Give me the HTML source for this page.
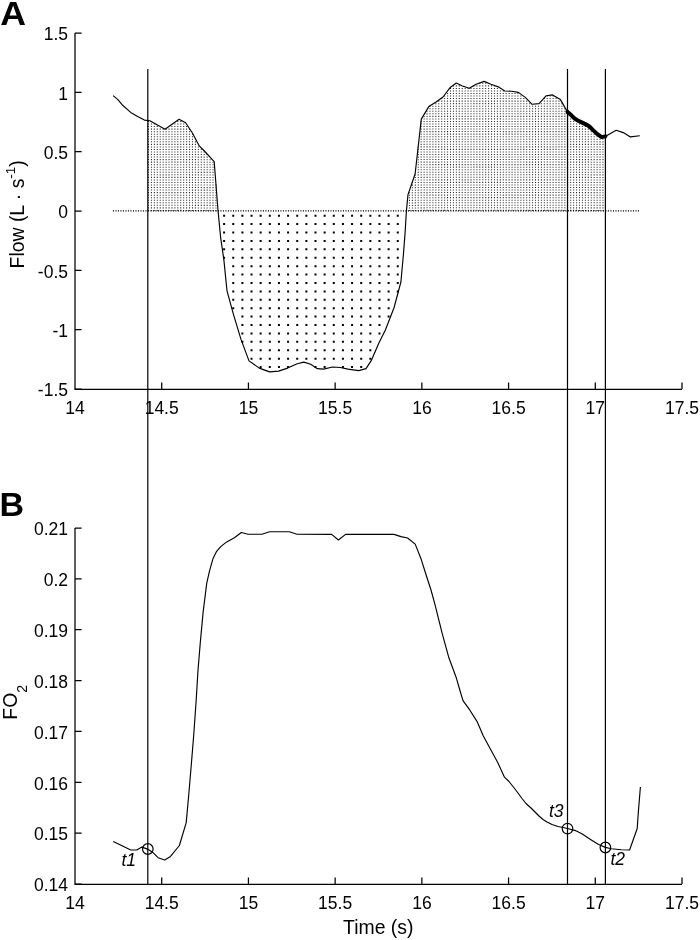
<!DOCTYPE html>
<html><head><meta charset="utf-8"><title>Flow and FO2</title>
<style>html,body{margin:0;padding:0;background:#fff;}body{width:700px;height:940px;overflow:hidden;}svg{display:block;will-change:transform;font-family:"Liberation Sans", sans-serif;}</style></head><body>
<svg width="700" height="940" viewBox="0 0 700 940">
<rect width="700" height="940" fill="#fff"/>
<path d="M148.5,120.97v90.12M151.43,123.52v87.58M154.36,123.52v87.58M157.29,126.06v85.03M160.23,128.61v82.49M163.16,128.61v82.49M166.09,128.61v82.49M169.02,128.61v82.49M171.95,126.06v85.03M174.89,123.52v87.58M177.82,120.97v90.12M180.75,120.97v90.12M183.68,123.52v87.58M186.61,126.06v85.03M189.55,128.61v82.49M192.48,133.7v77.4M195.41,138.79v72.31M198.34,146.43v64.67M201.27,148.97v62.13M204.21,151.52v59.58M207.14,154.06v57.04M210.07,159.15v51.95M213,161.69v49.4M215.93,184.6v26.5M406.51,210.05v1.05M409.45,192.23v18.86M412.38,182.06v29.04M415.31,174.42v36.68M418.24,146.43v64.67M421.17,120.97v90.12M424.11,115.89v95.21M427.04,110.8v100.3M429.97,105.7v105.39M432.9,105.7v105.39M435.83,103.16v107.94M438.77,100.62v110.48M441.7,98.07v113.03M444.63,95.53v115.57M447.56,92.98v118.12M450.49,87.89v123.21M453.43,85.34v125.75M456.36,85.34v125.75M459.29,85.34v125.75M462.22,87.89v123.21M465.15,87.89v123.21M468.09,87.89v123.21M471.02,87.89v123.21M473.95,85.34v125.75M476.88,85.34v125.75M479.81,82.8v128.3M482.75,82.8v128.3M485.68,82.8v128.3M488.61,85.34v125.75M491.54,85.34v125.75M494.47,85.34v125.75M497.41,87.89v123.21M500.34,87.89v123.21M503.27,90.44v120.66M506.2,92.98v118.12M509.13,92.98v118.12M512.07,92.98v118.12M515,92.98v118.12M517.93,92.98v118.12M520.86,95.53v115.57M523.79,98.07v113.03M526.73,100.62v110.48M529.66,103.16v107.94M532.59,105.7v105.39M535.52,105.7v105.39M538.45,105.7v105.39M541.39,103.16v107.94M544.32,98.07v113.03M547.25,95.53v115.57M550.18,95.53v115.57M553.11,95.53v115.57M556.05,98.07v113.03M558.98,100.62v110.48M561.91,103.16v107.94M564.84,108.25v102.85M567.77,113.34v97.76M570.71,115.89v95.21M573.64,118.43v92.67M576.57,120.97v90.12M579.5,123.52v87.58M582.43,123.52v87.58M585.37,126.06v85.03M588.3,126.06v85.03M591.23,128.61v82.49M594.16,131.16v79.94M597.09,133.7v77.4M600.03,136.25v74.85M602.96,138.79v72.31" fill="none" stroke="#000" stroke-opacity="0.85" stroke-width="1.05" stroke-dasharray="1.05 1.49"/>
<path d="M224.1,214.7v44.05M233.24,214.7v94.51M242.38,214.7v128.15M251.52,214.7v144.97M260.66,214.7v153.38M269.8,214.7v153.38M278.94,214.7v153.38M288.08,214.7v153.38M297.22,214.7v144.97M306.36,214.7v144.97M315.5,214.7v153.38M324.64,214.7v153.38M333.78,214.7v144.97M342.92,214.7v153.38M352.06,214.7v153.38M361.2,214.7v153.38M370.34,214.7v144.97M379.48,214.7v119.74M388.62,214.7v102.92M397.76,214.7v77.69" fill="none" stroke="#000" stroke-width="2" stroke-dasharray="2 6.41"/>
<line x1="112.9" y1="210.9" x2="640.4" y2="210.9" stroke="#000" stroke-width="1.4" stroke-dasharray="1.1 1.4"/>
<path d="M75.0,33.0 V389.25 H682.0" stroke="#000" stroke-width="1.25" fill="none"/>
<path d="M75.0,33.00h6.6M75.0,92.33h6.6M75.0,151.67h6.6M75.0,211.00h6.6M75.0,270.33h6.6M75.0,329.67h6.6M75.0,389.00h6.6" stroke="#000" stroke-width="1.25" fill="none"/>
<path d="M161.71,389.0v-6.4M248.43,389.0v-6.4M335.14,389.0v-6.4M421.86,389.0v-6.4M508.57,389.0v-6.4M595.29,389.0v-6.4M682.00,389.0v-6.4" stroke="#000" stroke-width="1.25" fill="none"/>
<text x="68" y="40.2" font-size="17.5" text-anchor="end">1.5</text>
<text x="68" y="99.5" font-size="17.5" text-anchor="end">1</text>
<text x="68" y="158.9" font-size="17.5" text-anchor="end">0.5</text>
<text x="68" y="218.2" font-size="17.5" text-anchor="end">0</text>
<text x="68" y="277.5" font-size="17.5" text-anchor="end">-0.5</text>
<text x="68" y="336.9" font-size="17.5" text-anchor="end">-1</text>
<text x="68" y="396.2" font-size="17.5" text-anchor="end">-1.5</text>
<text x="75.0" y="413.5" font-size="17.5" text-anchor="middle">14</text>
<text x="161.7" y="413.5" font-size="17.5" text-anchor="middle">14.5</text>
<text x="248.4" y="413.5" font-size="17.5" text-anchor="middle">15</text>
<text x="335.1" y="413.5" font-size="17.5" text-anchor="middle">15.5</text>
<text x="421.9" y="413.5" font-size="17.5" text-anchor="middle">16</text>
<text x="508.6" y="413.5" font-size="17.5" text-anchor="middle">16.5</text>
<text x="595.3" y="413.5" font-size="17.5" text-anchor="middle">17</text>
<text x="682.0" y="413.5" font-size="17.5" text-anchor="middle">17.5</text>
<path d="M75.0,528.0 V884.25 H682.0" stroke="#000" stroke-width="1.25" fill="none"/>
<path d="M75.0,528.00h6.6M75.0,578.86h6.6M75.0,629.71h6.6M75.0,680.57h6.6M75.0,731.43h6.6M75.0,782.29h6.6M75.0,833.14h6.6M75.0,884.00h6.6" stroke="#000" stroke-width="1.25" fill="none"/>
<path d="M161.71,884.0v-6.4M248.43,884.0v-6.4M335.14,884.0v-6.4M421.86,884.0v-6.4M508.57,884.0v-6.4M595.29,884.0v-6.4M682.00,884.0v-6.4" stroke="#000" stroke-width="1.25" fill="none"/>
<text x="68" y="535.2" font-size="17.5" text-anchor="end">0.21</text>
<text x="68" y="586.1" font-size="17.5" text-anchor="end">0.2</text>
<text x="68" y="636.9" font-size="17.5" text-anchor="end">0.19</text>
<text x="68" y="687.8" font-size="17.5" text-anchor="end">0.18</text>
<text x="68" y="738.6" font-size="17.5" text-anchor="end">0.17</text>
<text x="68" y="789.5" font-size="17.5" text-anchor="end">0.16</text>
<text x="68" y="840.3" font-size="17.5" text-anchor="end">0.15</text>
<text x="68" y="891.2" font-size="17.5" text-anchor="end">0.14</text>
<text x="75.0" y="908.5" font-size="17.5" text-anchor="middle">14</text>
<text x="161.7" y="908.5" font-size="17.5" text-anchor="middle">14.5</text>
<text x="248.4" y="908.5" font-size="17.5" text-anchor="middle">15</text>
<text x="335.1" y="908.5" font-size="17.5" text-anchor="middle">15.5</text>
<text x="421.9" y="908.5" font-size="17.5" text-anchor="middle">16</text>
<text x="508.6" y="908.5" font-size="17.5" text-anchor="middle">16.5</text>
<text x="595.3" y="908.5" font-size="17.5" text-anchor="middle">17</text>
<text x="682.0" y="908.5" font-size="17.5" text-anchor="middle">17.5</text>
<polyline points="113.2,95.6 117.9,99.6 122.1,104.7 130.7,112.4 137.6,116.4 144.4,120.1 149.9,120.7 165.0,129.2 179.1,119.3 185.6,122.7 192.4,133.0 199.3,145.9 204.4,151.0 213.0,160.4 214.2,161.7 218.0,210.3 220.6,237.1 223.9,260.1 227.0,290.8 233.3,313.8 241.0,339.4 249.0,360.9 259.3,368.1 269.6,371.9 278.6,371.1 287.6,368.1 296.6,364.0 303.8,362.1 310.7,364.2 317.1,368.6 323.6,369.1 332.6,367.0 340.3,367.5 348.0,369.1 358.8,370.6 366.0,368.6 371.1,360.9 378.9,342.9 385.5,329.7 394.1,307.5 400.9,282.0 403.4,254.7 405.1,232.6 406.4,211.0 408.0,194.6 415.1,174.0 421.3,119.1 428.8,106.6 436.1,102.0 443.0,97.0 449.9,87.8 456.3,83.0 462.4,86.0 469.3,88.3 476.1,84.2 484.1,81.4 491.0,84.2 499.0,87.1 504.7,91.0 511.6,91.3 518.4,92.4 525.3,97.4 532.1,104.3 539.0,103.6 546.3,95.7 552.6,94.9 560.4,99.6 567.6,112.1 571.4,115.3 574.6,118.5 577.9,120.7 581.7,122.4 586.9,124.9 589.4,126.5 593.3,130.4 597.1,133.9 601.6,137.1 605.2,136.4 616.2,130.3 623.3,132.6 630.4,136.9 639.8,135.8" fill="none" stroke="#000" stroke-width="1.15" stroke-linejoin="round"/>
<polyline points="567.5,111.9 567.6,112.1 571.4,115.3 574.6,118.5 577.9,120.7 581.7,122.4 586.9,124.9 589.4,126.5 593.3,130.4 597.1,133.9 601.6,137.1 605.2,136.4 605.4,136.3" fill="none" stroke="#000" stroke-width="4" stroke-linejoin="round" stroke-linecap="round"/>
<polyline points="113.2,841.4 122.1,845.7 130.7,850.0 136.7,850.0 141.9,847.1 147.5,849.1 153.0,852.6 158.1,857.7 164.7,860.0 170.5,856.4 179.4,845.5 186.2,822.6 188.7,795.3 191.3,764.7 193.8,734.0 196.2,700.0 198.0,670.3 200.4,641.4 203.1,612.4 206.7,583.4 209.6,570.6 213.0,558.6 216.4,551.7 220.7,546.6 226.7,541.9 234.4,537.7 241.3,532.5 248.1,534.2 261.9,534.2 269.6,531.7 289.3,531.7 297.0,534.2 331.6,534.4 338.4,540.0 345.6,534.4 394.0,534.4 401.0,536.6 407.6,538.0 415.2,544.1 421.2,559.3 426.3,575.5 431.0,590.0 435.0,604.6 438.3,617.9 442.3,633.9 448.9,657.8 456.3,677.8 459.8,690.0 463.0,700.6 469.9,710.2 477.3,721.9 483.2,735.7 490.1,748.5 497.6,762.3 504.5,777.2 509.0,781.5 513.0,786.5 518.0,793.0 522.0,798.5 526.0,803.5 531.0,808.0 535.0,812.0 539.0,816.0 543.0,819.5 547.0,822.0 552.0,824.5 558.0,826.5 563.0,827.5 567.5,828.5 575.4,830.6 582.3,834.1 590.9,839.7 598.6,844.5 605.4,847.4 611.4,848.8 621.3,849.8 629.6,850.0 637.2,828.5 638.3,812.6 640.4,787.0" fill="none" stroke="#000" stroke-width="1.15" stroke-linejoin="round"/>
<line x1="147.8" y1="69.0" x2="147.8" y2="884.0" stroke="#000" stroke-width="1.2"/>
<line x1="567.5" y1="69.0" x2="567.5" y2="884.0" stroke="#000" stroke-width="1.2"/>
<line x1="605.4" y1="69.0" x2="605.4" y2="884.0" stroke="#000" stroke-width="1.2"/>
<circle cx="147.8" cy="849.0" r="5.3" fill="none" stroke="#000" stroke-width="1.2"/>
<circle cx="567.5" cy="828.6" r="5.3" fill="none" stroke="#000" stroke-width="1.2"/>
<circle cx="605.4" cy="847.5" r="5.3" fill="none" stroke="#000" stroke-width="1.2"/>
<text x="121.5" y="866" font-size="17.5" font-style="italic">t1</text>
<text x="549" y="817.4" font-size="17.5" font-style="italic">t3</text>
<text x="610.5" y="864.7" font-size="17.5" font-style="italic">t2</text>
<text transform="translate(0.2,24.8) scale(1.05,1)" font-size="34" font-weight="bold">A</text>
<text transform="translate(-0.6,515.9)" font-size="34" font-weight="bold">B</text>
<text x="378.3" y="933.7" font-size="19.4" text-anchor="middle">Time (s)</text>
<text transform="translate(23.7,214.3) rotate(-90)" font-size="19.4" text-anchor="middle">Flow (L · s<tspan font-size="13.5" dy="-9">-1</tspan><tspan dy="9">)</tspan></text>
<text transform="translate(16.5,702.3) rotate(-90)" font-size="19.4" text-anchor="middle">FO<tspan font-size="14" dy="10">2</tspan></text>
</svg>
</body></html>
